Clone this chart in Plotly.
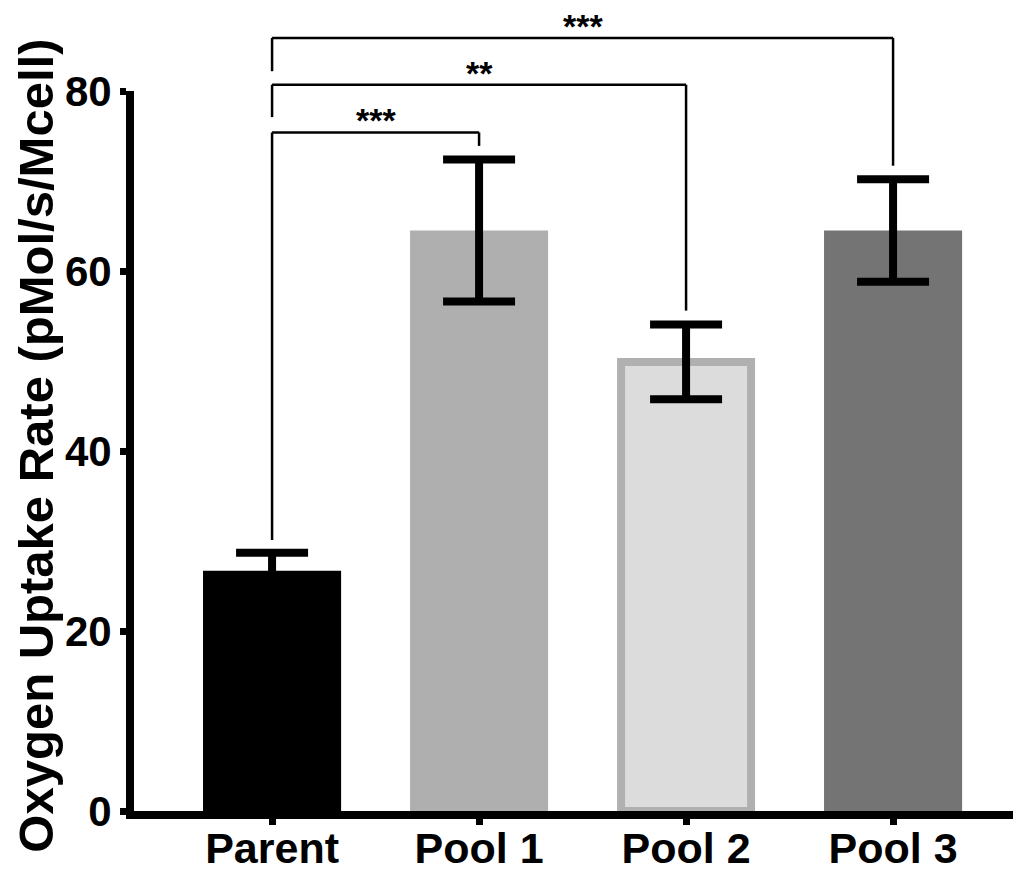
import plotly.graph_objects as go

categories = ["Parent", "Pool 1", "Pool 2", "Pool 3"]
values = [26.7, 64.5, 49.9, 64.5]
errors = [2.0, 7.9, 4.15, 5.7]
bar_colors = ["#000000", "#afafaf", "#dcdcdc", "#747474"]
bar_line_colors = ["#000000", "#afafaf", "#b0b0b0", "#747474"]

y_ticks = [0, 20, 40, 60, 80]

# significance brackets: (group a, group b), bracket height, left leg end, right leg end, label
bracket_pairs = [(0, 1), (0, 2), (0, 3)]
bracket_heights = [75.4, 80.7, 85.9]
bracket_left_ends = [30.1, 77.1, 82.2]
bracket_right_ends = [73.9, 55.6, 71.7]
bracket_labels = ["***", "**", "***"]

Y_MAX = 80
FONT = "Liberation Sans, Arial, sans-serif"

xs = list(range(len(categories)))
widths = [0.667, 0.667, 0.628, 0.667]
line_widths = [0, 0, 8, 0]

fig = go.Figure()
fig.add_trace(go.Bar(
    x=xs, y=values, width=widths,
    marker=dict(color=bar_colors, line=dict(color=bar_line_colors, width=line_widths)),
    error_y=dict(type="data", array=errors, visible=True, color="black", thickness=8, width=36),
    showlegend=False,
))

shapes = []
annotations = []
for (a, b), h, le, re, lab in zip(bracket_pairs, bracket_heights, bracket_left_ends,
                                   bracket_right_ends, bracket_labels):
    line = dict(color="black", width=2.5)
    shapes.append(dict(type="line", xref="x", yref="paper", x0=a, x1=b,
                       y0=h / Y_MAX, y1=h / Y_MAX, line=line))
    shapes.append(dict(type="line", xref="x", yref="paper", x0=a, x1=a,
                       y0=h / Y_MAX, y1=le / Y_MAX, line=line))
    shapes.append(dict(type="line", xref="x", yref="paper", x0=b, x1=b,
                       y0=h / Y_MAX, y1=re / Y_MAX, line=line))
    annotations.append(dict(x=(a + b) / 2, y=h / Y_MAX, xref="x", yref="paper",
                            text=lab, showarrow=False, yanchor="middle", yshift=12,
                            font=dict(family=FONT, size=34, color="black", weight="bold")))

annotations.append(dict(x=-0.110, y=0.508, xref="paper", yref="paper",
                        text="Oxygen Uptake Rate (pMol/s/Mcell)", showarrow=False,
                        textangle=-90, xanchor="center", yanchor="middle", borderpad=0,
                        font=dict(family=FONT, size=49, color="black", weight="bold")))

fig.update_layout(
    width=1013, height=864,
    margin=dict(l=126, r=0, t=83, b=61, autoexpand=False),
    plot_bgcolor="white", paper_bgcolor="white",
    shapes=shapes, annotations=annotations,
    xaxis=dict(range=[-0.667, 3.618], tickvals=xs, ticktext=categories,
               showline=True, linecolor="black", linewidth=8,
               ticks="outside", ticklen=6, tickwidth=7, tickcolor="black",
               showgrid=False, zeroline=False, automargin=False,
               ticklabelstandoff=-14,
               tickfont=dict(family=FONT, size=43, color="black", weight="bold")),
    yaxis=dict(range=[0, Y_MAX], tickvals=y_ticks,
               showline=True, linecolor="black", linewidth=8,
               ticks="outside", ticklen=6, tickwidth=7, tickcolor="black",
               showgrid=False, zeroline=False, automargin=False,
               tickfont=dict(family=FONT, size=42, color="black", weight="bold")),
)

fig.write_html("out.html")
